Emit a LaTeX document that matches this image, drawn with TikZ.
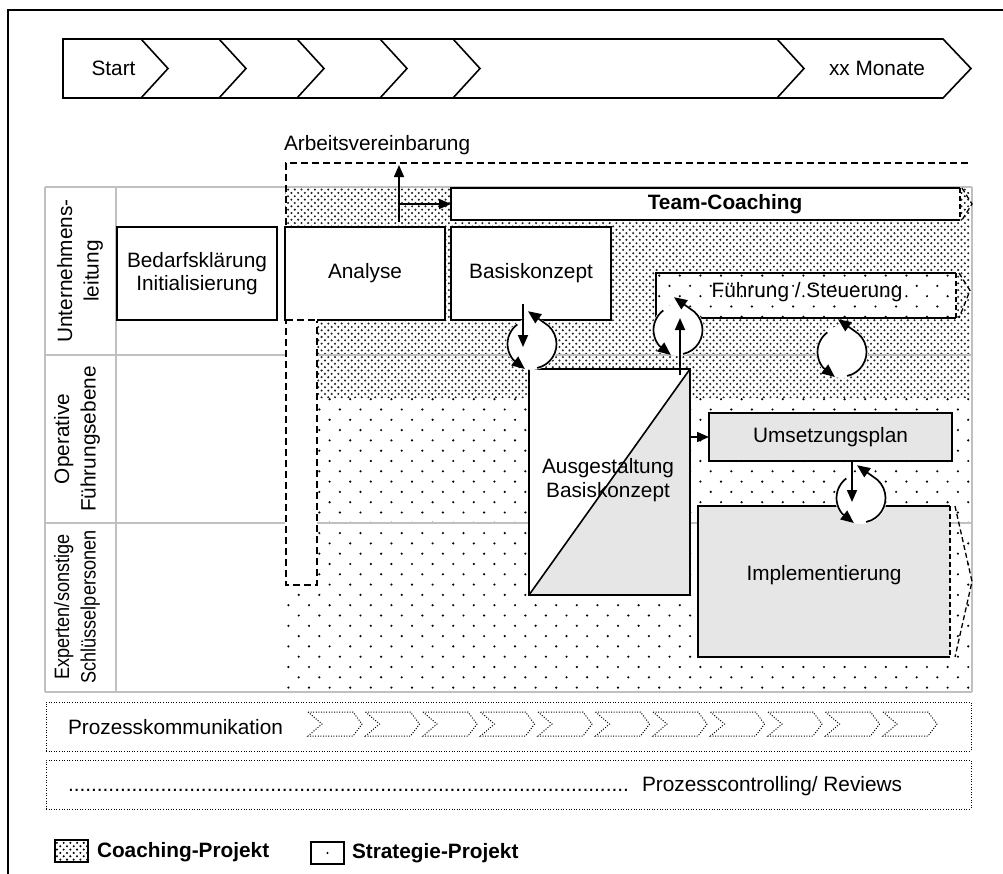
\documentclass[tikz,border=0pt]{standalone}
\usepackage{fontspec}
\usepackage{graphicx}
\setmainfont{Liberation Sans}
\usetikzlibrary{arrows.meta,patterns,calc}
\definecolor{gridgray}{HTML}{C0C0C0}
\definecolor{boxgray}{HTML}{E6E6E6}
\definecolor{dotcol}{HTML}{202020}
\pgfdeclarepatternformonly{densedots}{\pgfqpoint{-1.5pt}{-1.5pt}}{\pgfqpoint{8.2pt}{8.2pt}}{\pgfqpoint{6.7pt}{6.7pt}}{%
  \pgfpathcircle{\pgfqpoint{0pt}{0pt}}{1.15pt}%
  \pgfpathcircle{\pgfqpoint{3.35pt}{3.35pt}}{1.15pt}%
  \pgfusepath{fill}}
\pgfdeclarepatternformonly{sparsedots}{\pgfqpoint{-2pt}{-2pt}}{\pgfqpoint{22.6pt}{22.6pt}}{\pgfqpoint{20.6pt}{20.6pt}}{%
  \pgfpathcircle{\pgfqpoint{0pt}{0pt}}{1.2pt}%
  \pgfpathcircle{\pgfqpoint{10.3pt}{10.3pt}}{1.2pt}%
  \pgfusepath{fill}}
\newcommand\cyclesym[1]{%
  \fill[white] (#1) circle[radius=26];
  \draw[cyarr] ($(#1)+(78:24.5)$) arc[start angle=78, end angle=-60, radius=24.5] -- ($(#1)+(-97:33)$);
  \draw[cyarr] ($(#1)+(-127:24.5)$) arc[start angle=-127, end angle=-220, radius=24.5] -- ($(#1)+(-254:26)$);
}
\begin{document}
\begin{tikzpicture}[x=1pt,y=-1pt,
  every node/.style={inner sep=0pt, outer sep=0pt},
  font=\fontsize{20.8}{23.5}\selectfont,
  lw/.style={line width=1.6pt},
  box/.style={draw, line width=1.6pt, fill=white, align=center},
  arr/.style={line width=1.6pt, -{Triangle[length=12pt,width=10pt]}},
  cyarr/.style={line width=1.7pt, -{Triangle[length=13pt,width=11pt]}},
  gridline/.style={draw=gridgray, line width=1.5pt},
  dashline/.style={line width=1.7pt, dash pattern=on 7pt off 4pt},
  dashthin/.style={line width=1.3pt, dash pattern=on 5pt off 3pt},
  dotline/.style={line width=1pt, dash pattern=on 1pt off 1.6pt},
  lanefont/.style={font=\fontsize{20.8}{26.5}\selectfont},
  boldfont/.style={font=\fontsize{20.8}{23.5}\selectfont\bfseries}]
\useasboundingbox (0,0) rectangle (1003,873);
% outer frame
\draw[line width=1.8pt] (8,10) rectangle (1040,910);
% time chevron bar
\draw[lw] (63,39) -- (943,39) -- (971,68.5) -- (943,98) -- (63,98) -- cycle;
\foreach \s in {141,219,297,380,453,777} \draw[lw] (\s,39) -- (\s+27,68.5) -- (\s,98);
\node (start) at (113.5,68.5) {Start};
\node (months) at (877,68.5) {xx Monate};
% patterned areas
\path[pattern=densedots, pattern color=dotcol] (285,188) -- (970,188) -- (970,398) -- (317,398) -- (317,320) -- (285,320) -- cycle;
\path[pattern=sparsedots, pattern color=black] (317,398) -- (970,398) -- (970,692) -- (285,692) -- (285,585) -- (317,585) -- cycle;
% grid
\draw[gridline] (45,187) -- (972,187);
\draw[gridline] (45,355) -- (285,355) (317,355) -- (972,355);
\draw[gridline] (45,523) -- (285,523) (317,523) -- (972,523);
\draw[gridline] (45,692) -- (972,692);
\draw[gridline] (45,187) -- (45,692) (116,187) -- (116,692) (972,187) -- (972,692);
% lane labels
\node[rotate=90, lanefont, align=center] (lane1) at (80,271) {Unternehmens-\\leitung};
\node[rotate=90, lanefont, align=center] (lane2) at (77,439) {Operative\\Führungsebene};
\node[rotate=90, lanefont] (lane3) at (77,607) {\scalebox{0.87}[1]{\begin{tabular}{@{}c@{}}Experten/sonstige\\Schlüsselpersonen\end{tabular}}};
% dashed outline
\draw[dashline] (968,163) -- (286,163) -- (286,585) -- (317,585) -- (317,320);
\node[anchor=west] (arb) at (284,145) {Arbeitsvereinbarung};
% boxes
\node[box, minimum width=160pt, minimum height=93pt] (bed) at (197,273.5) {Bedarfsklärung\\Initialisierung};
\node[box, minimum width=160pt, minimum height=93pt] (ana) at (365,273.5) {Analyse};
\draw[white, line width=2pt] (287,320) -- (317,320);
\draw[dashline] (286,320) -- (317,320);
\node[box, minimum width=160pt, minimum height=93pt] (bas) at (531,273.5) {Basiskonzept};
% team coaching
\node[minimum width=509pt, minimum height=32pt, fill=white] (team) at (705.5,204) {};
\draw[lw] (team.north east) -- (team.north west) -- (team.south west) -- (team.south east);
\draw[dashthin] (team.north east) -- (team.south east);
\draw[dashthin] ($(team.north east)+(2,0)$) -- ($(team.east)+(12,0)$) -- ($(team.south east)+(2,0)$);
\node[boldfont] (teamtext) at (725,204.5) {Team-Coaching};
% arrows to Arbeitsvereinbarung / Team-Coaching
\coordinate (avbase) at (399,222);
\coordinate (avtip) at (399,165);
\draw[arr] (avbase) -- (avtip);
\draw[arr] (avbase |- team.west) -- (team.west);
% Fuehrung / Steuerung
\node[minimum width=300pt, minimum height=45pt, preaction={fill=white}, pattern=sparsedots, pattern color=black] (fuehr) at (806,295.5) {};
\draw[lw] (fuehr.north east) -- (fuehr.north west) -- (fuehr.south west) -- (fuehr.south east);
\draw[dashthin] (fuehr.north east) -- (fuehr.south east);
\draw[dashthin] ($(fuehr.north east)+(3,0)$) -- ($(fuehr.east)+(14,-5)$) -- ($(fuehr.south east)+(3,0)$);
\node (fuehrtext) at (807,292) {Führung / Steuerung};
% Ausgestaltung
\node[minimum width=161pt, minimum height=226pt, fill=white] (ausg) at (609.5,482) {};
\fill[boxgray] (ausg.south west) -- (ausg.north east) -- (ausg.south east) -- cycle;
\draw[lw] (ausg.south west) -- (ausg.north east);
\draw[lw] (ausg.north west) rectangle (ausg.south east);
\node[align=center] (ausgtext) at (608,480) {Ausgestaltung\\Basiskonzept};
% Umsetzungsplan
\node[box, fill=boxgray, minimum width=243pt, minimum height=48pt] (ums) at (830.5,437) {Umsetzungsplan};
\draw[arr] (ausg.east |- ums.west) -- (ums.west);
% Implementierung
\node[minimum width=252pt, minimum height=151pt, fill=boxgray] (impl) at (824,581.5) {};
\draw[lw] (impl.north east) -- (impl.north west) -- (impl.south west) -- (impl.south east);
\draw[dashthin] (impl.north east) -- (impl.south east);
\draw[dashthin] ($(impl.north east)+(5,0)$) -- ($(impl.east)+(22,0)$) -- ($(impl.south east)+(5,0)$);
\node (impltext) at (824,575) {Implementierung};
% cycles
\coordinate (c1) at (532,344);
\coordinate (c2) at (678,330);
\coordinate (c3) at (842,352);
\coordinate (c4) at (861,498);
\cyclesym{c1}
\cyclesym{c2}
\cyclesym{c3}
\cyclesym{c4}
\coordinate (a1s) at (523,304);
\coordinate (a1e) at (523,347);
\draw[arr] (a1s) -- (a1e);
\coordinate (a2s) at (680,375);
\draw[arr] (a2s) -- (a2s |- fuehr.south);
\coordinate (a4s) at (852,461);
\coordinate (a4e) at (852,502);
\draw[arr] (a4s) -- (a4e);
% Prozesskommunikation
\node[draw, dotline, minimum width=925pt, minimum height=49pt] (pk) at (508.5,726.5) {};
\node[anchor=west] (pktext) at (68,727) {Prozesskommunikation};
\foreach \i in {0,...,10} {
  \pgfmathsetmacro\xo{308+57.5*\i}
  \draw[dotline] (\xo,712) -- ++(45,0) -- ++(9,12) -- ++(-9,12) -- ++(-45,0) -- ++(14,-12) -- cycle;
}
% Prozesscontrolling
\node[draw, dotline, minimum width=925pt, minimum height=49pt] (pc) at (508.5,784.5) {};
\node[anchor=base west] (pcdots) at (68,791) {.................................................................................................};
\node[anchor=base west] (pctext) at (642,791) {Prozesscontrolling/ Reviews};
% legend
\node[draw, line width=1.4pt, minimum width=33pt, minimum height=22pt, preaction={fill=white}, pattern=densedots, pattern color=black] (leg1) at (71.5,851) {};
\node[anchor=west, boldfont] (leg1t) at (97,852) {Coaching-Projekt};
\node[draw, line width=1.4pt, minimum width=33pt, minimum height=22pt] (leg2) at (327.5,853) {};
\fill (leg2.center) circle[radius=1.2];
\node[anchor=west, boldfont] (leg2t) at (352,853) {Strategie-Projekt};
\end{tikzpicture}
\end{document}
